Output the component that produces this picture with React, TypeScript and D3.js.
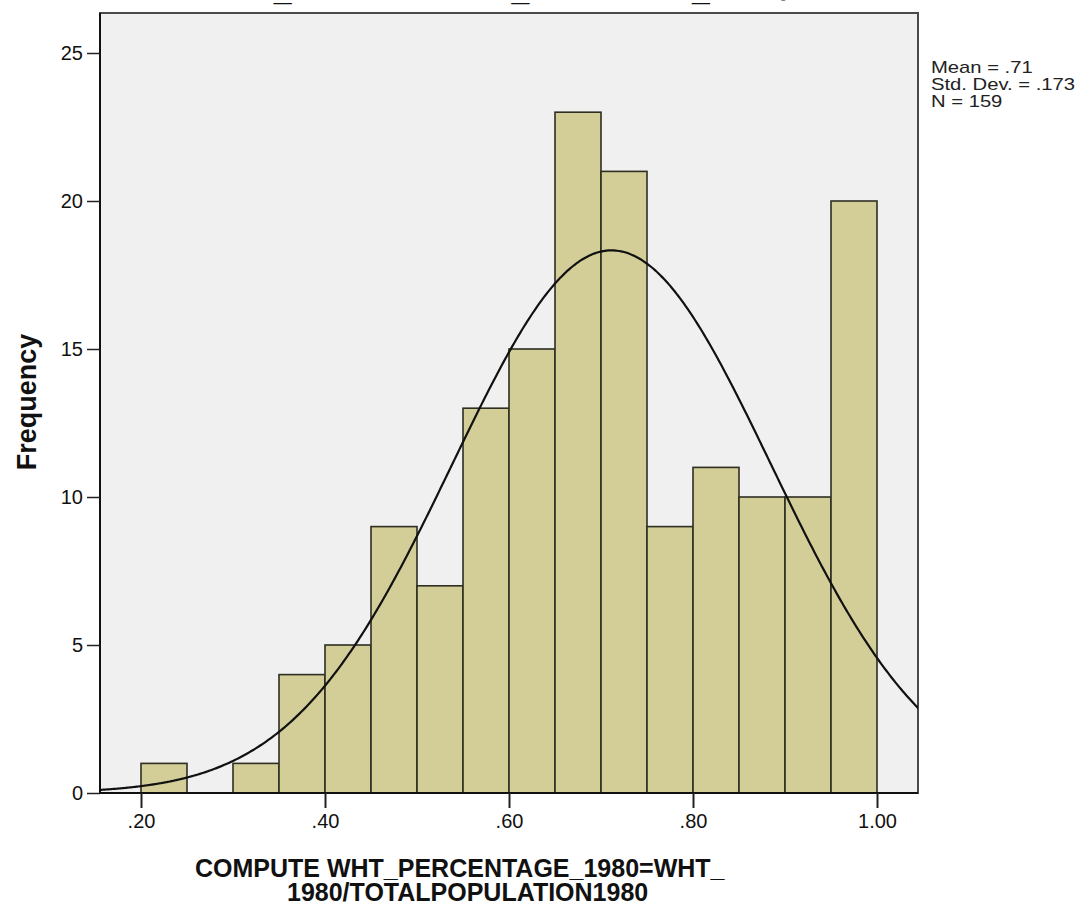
import React, { useEffect, useRef } from "react";
import * as d3 from "d3";

// histogram bins (lower edge) and counts
const binStarts = [0.2, 0.25, 0.3, 0.35, 0.4, 0.45, 0.5, 0.55, 0.6, 0.65, 0.7, 0.75, 0.8, 0.85, 0.9, 0.95];
const counts = [1, 0, 1, 4, 5, 9, 7, 13, 15, 23, 21, 9, 11, 10, 10, 20];
const binWidth = 0.05;
const xTicks = [0.2, 0.4, 0.6, 0.8, 1.0];
const yTicks = [0, 5, 10, 15, 20, 25];
const stats = ["Mean = .71", "Std. Dev. = .173", "N = 159"];
const mean = 0.7115;
const sd = 0.173;
const n = 159;

const App = () => {
  const ref = useRef<SVGSVGElement | null>(null);

  useEffect(() => {
    const width = 1089;
    const height = 913;
    const plot = { left: 100, right: 918, top: 13, bottom: 793 };

    const svg = d3.select(ref.current);
    svg.selectAll("*").remove();
    svg.attr("width", width).attr("height", height);

    const x = d3.scaleLinear().domain([0.2, 1.0]).range([141, 877]);
    const y = d3.scaleLinear().domain([0, 25]).range([plot.bottom, 53]);

    svg.append("defs")
      .append("clipPath")
      .attr("id", "plotclip")
      .append("rect")
      .attr("x", plot.left)
      .attr("y", plot.top)
      .attr("width", plot.right - plot.left)
      .attr("height", plot.bottom - plot.top);

    // cut-off title at the very top
    svg.append("text")
      .attr("x", 32)
      .attr("y", 0)
      .attr("font-family", "Liberation Sans, Arial, sans-serif")
      .attr("font-weight", "bold")
      .attr("font-size", 32)
      .attr("fill", "#111")
      .text("COMPUTE WHT_PERCENTAGE_1980=WHT_1980/TOTALPOPULATION1980 by");

    svg.append("rect")
      .attr("x", plot.left)
      .attr("y", plot.top)
      .attr("width", plot.right - plot.left)
      .attr("height", plot.bottom - plot.top)
      .attr("fill", "#f0f0f0")
      .attr("stroke", "#4a4a4a")
      .attr("stroke-width", 2);

    const data = binStarts.map((b, i) => ({ b, c: counts[i] })).filter((d) => d.c > 0);

    svg.selectAll("rect.bar")
      .data(data)
      .join("rect")
      .attr("class", "bar")
      .attr("x", (d) => x(d.b))
      .attr("y", (d) => y(d.c))
      .attr("width", (d) => x(d.b + binWidth) - x(d.b))
      .attr("height", (d) => y(0) - y(d.c))
      .attr("fill", "#d3ce97")
      .attr("stroke", "#2e2e22")
      .attr("stroke-width", 1.6);

    // normal curve
    const scale = (n * binWidth) / (sd * Math.sqrt(2 * Math.PI));
    const xs = d3.range(0.14, 1.06, 0.002);
    const line = d3.line<number>()
      .x((v) => x(v))
      .y((v) => y(scale * Math.exp(-0.5 * ((v - mean) / sd) ** 2)))
      .curve(d3.curveBasis);
    svg.append("path")
      .datum(xs)
      .attr("d", line)
      .attr("fill", "none")
      .attr("stroke", "#111")
      .attr("stroke-width", 2.2)
      .attr("clip-path", "url(#plotclip)");

    // axes
    const font = "Liberation Sans, Arial, sans-serif";
    svg.append("line")
      .attr("x1", plot.left).attr("x2", plot.left)
      .attr("y1", plot.top).attr("y2", plot.bottom)
      .attr("stroke", "#111").attr("stroke-width", 2);
    svg.append("line")
      .attr("x1", plot.left).attr("x2", plot.right)
      .attr("y1", plot.bottom).attr("y2", plot.bottom)
      .attr("stroke", "#111").attr("stroke-width", 2);

    const yAxis = svg.append("g")
      .attr("transform", `translate(${plot.left},0)`)
      .call(d3.axisLeft(y).tickValues(yTicks).tickSize(13).tickPadding(4).tickFormat((d) => `${d}`));
    yAxis.select(".domain").remove();
    yAxis.selectAll("line").attr("stroke", "#222").attr("stroke-width", 1.5);
    yAxis.selectAll("text")
      .attr("font-family", font)
      .attr("font-size", 20)
      .attr("fill", "#111");

    const xAxis = svg.append("g")
      .attr("transform", `translate(0,${plot.bottom})`)
      .call(
        d3.axisBottom(x).tickValues(xTicks).tickSize(15).tickPadding(6)
          .tickFormat((d) => d3.format(".2f")(d as number).replace(/^0/, ""))
      );
    xAxis.select(".domain").remove();
    xAxis.selectAll("line").attr("stroke", "#222").attr("stroke-width", 2);
    xAxis.selectAll("text")
      .attr("font-family", font)
      .attr("font-size", 20)
      .attr("fill", "#111");

    // axis titles
    svg.append("text")
      .attr("transform", "translate(36,402) rotate(-90)")
      .attr("text-anchor", "middle")
      .attr("font-family", font)
      .attr("font-weight", "bold")
      .attr("font-size", 27)
      .attr("fill", "#111")
      .text("Frequency");

    svg.append("text")
      .attr("x", 195)
      .attr("y", 877)
      .attr("font-family", font)
      .attr("font-weight", "bold")
      .attr("font-size", 25)
      .attr("fill", "#111")
      .text("COMPUTE WHT_PERCENTAGE_1980=WHT_");
    svg.append("text")
      .attr("x", 287)
      .attr("y", 901)
      .attr("font-family", font)
      .attr("font-weight", "bold")
      .attr("font-size", 25)
      .attr("fill", "#111")
      .text("1980/TOTALPOPULATION1980");

    // stats block (slightly wide glyphs, tight lines as in the picture)
    svg.append("g")
      .attr("transform", "translate(931,0) scale(1.19,1)")
      .selectAll("text")
      .data(stats)
      .join("text")
      .attr("x", 0)
      .attr("y", (_, i) => 73 + i * 17)
      .attr("font-family", font)
      .attr("font-size", 17)
      .attr("fill", "#222")
      .text((d) => d);
  }, []);

  return (
    <div>
      <svg ref={ref} style={{ position: "absolute", left: 0, top: 0 }} />
    </div>
  );
};

export default App;
